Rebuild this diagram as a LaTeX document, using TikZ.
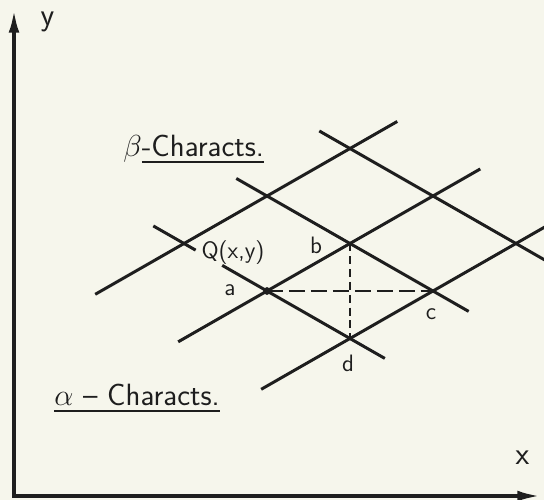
\documentclass[tikz,border=0pt]{standalone}
\usepackage{amsmath}
\usetikzlibrary{arrows.meta}
\definecolor{paper}{HTML}{F6F6EC}
\definecolor{ink}{HTML}{1E1E1E}
\newcommand{\charul}[1]{\setbox0\hbox{#1}\rlap{\rule[-3.6pt]{\wd0}{1.2pt}}\box0}

\begin{document}
\begin{tikzpicture}[x=0.02cm, y=0.02cm,
    grid/.style={draw=ink, line width=1.7pt},
    axis/.style={draw=ink, line width=2.3pt},
    hdash/.style={draw=ink, line width=1.3pt, dash pattern=on 9pt off 3.5pt},
    vdash/.style={draw=ink, line width=1.3pt, dash pattern=on 4.5pt off 2.8pt},
    biglab/.style={font=\sffamily\fontsize{17.5}{20}\selectfont, text=ink, inner sep=0pt},
    smalllab/.style={font=\sffamily\fontsize{13.5}{16}\selectfont, text=ink, inner sep=0pt},
    axlab/.style={font=\sffamily\fontsize{18}{20}\selectfont, text=ink, inner sep=0pt},
  ]
  \fill[paper] (0,0) rectangle (544,500);
  \useasboundingbox (0,0) rectangle (544,500);
  \clip (0,0) rectangle (544,500);

  % axes
  \coordinate (origin) at (14,4);
  \coordinate (ytip) at (14,492);
  \coordinate (xtip) at (542,4);
  \draw[axis, {Latex[length=14pt,width=6pt]}-{Latex[length=14pt,width=6pt]}] (ytip) -- (origin) -- (xtip);

  % characteristics net
  \begin{scope}[shift={(267,209)}, x={(1.66cm,0.95cm)}, y={(1.66cm,-0.95cm)}]
    \foreach \t in {-1,0,1}
      \draw[grid] (-1.07,\t) -- (2.57,\t);
    \foreach \s in {1,2}
      \draw[grid] (\s,-1.37) -- (\s,1.43);
    \draw[grid] (0,-1.37) -- (0,-0.86);
    \draw[grid] (0,-0.54) -- (0,1.42);
    \coordinate (a) at (0,0);
    \coordinate (b) at (1,0);
    \coordinate (c) at (1,1);
    \coordinate (d) at (0,1);
  \end{scope}
  \draw[hdash] (a) -- (c);
  \draw[vdash] (b) -- (d);
  \fill[ink] (a) circle[radius=2.2pt];

  \node[smalllab] (alab) at (230,210) {a};
  \node[smalllab] (blab) at (316,255) {b};
  \node[smalllab] (clab) at (431,185.5) {c};
  \node[smalllab] (dlab) at (348,136.5) {d};
  \node[smalllab] (qlab) at (233,247.5) {Q(x,y)};
  \node[axlab] (ylab) at (47.5,478.5) {y};
  \node[axlab] (xlab) at (522.5,42.5) {x};
  \node[biglab, anchor=base west] (betalab) at (123,343) {$\beta$\charul{-Characts.}};
  \node[biglab, anchor=base west] (alphalab) at (54,94) {\charul{$\alpha$ -- Characts.}};
\end{tikzpicture}
\end{document}
